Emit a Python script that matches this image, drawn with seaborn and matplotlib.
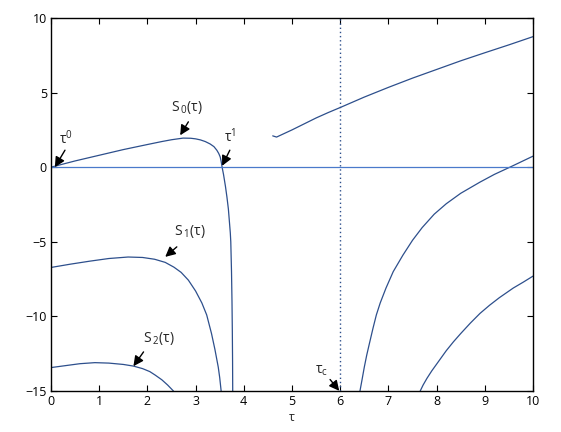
import numpy as np
import pandas as pd
import matplotlib
matplotlib.use("Agg")
import matplotlib.pyplot as plt
import seaborn as sns

# curve values
s0_tau = [0, 0.5, 1.0, 1.5, 2.0, 2.3, 2.5, 2.74, 2.9, 3.0, 3.1, 3.2, 3.3, 3.38, 3.44, 3.48, 3.51, 3.53, 3.55,
          3.58, 3.62, 3.65, 3.68, 3.7, 3.72, 3.73, 3.745, 3.755, 3.762, 3.767, 3.77]
s0_val = [0, 0.42, 0.8, 1.18, 1.52, 1.72, 1.84, 1.95, 1.94, 1.9, 1.83, 1.72, 1.56, 1.38, 1.14, 0.92, 0.69, 0.4, 0,
          -0.5, -1.3, -2.0, -2.8, -3.6, -4.4, -5.0, -7.0, -9.0, -11.0, -13.0, -15]

s1_tau = [0, 0.4, 0.8, 1.2, 1.6, 1.9, 2.15, 2.37, 2.55, 2.7, 2.85, 3.0, 3.13, 3.23, 3.33, 3.4, 3.47, 3.5, 3.53]
s1_val = [-6.72, -6.5, -6.3, -6.12, -6.02, -6.05, -6.17, -6.38, -6.7, -7.05, -7.57, -8.3, -9.1, -9.9, -11.15,
          -12.2, -13.4, -14.1, -15]

s2_tau = [0, 0.3, 0.6, 0.91, 1.2, 1.5, 1.71, 1.9, 2.05, 2.16, 2.3, 2.42, 2.54]
s2_val = [-13.43, -13.3, -13.17, -13.1, -13.13, -13.22, -13.33, -13.5, -13.7, -13.93, -14.25, -14.6, -15]

up_tau = [4.6, 4.68, 4.8, 5.0, 5.25, 5.5, 5.75, 6.0, 6.5, 7.0, 7.5, 8.0, 8.5, 9.0, 9.5, 10]
up_val = [2.1, 2.02, 2.2, 2.5, 2.9, 3.3, 3.66, 4.0, 4.7, 5.35, 5.97, 6.55, 7.13, 7.67, 8.2, 8.75]

r1_tau = [6.41, 6.45, 6.5, 6.55, 6.6, 6.68, 6.75, 6.83, 6.95, 7.1, 7.3, 7.5, 7.7, 7.95, 8.2, 8.5, 8.9, 9.2, 9.52, 10]
r1_val = [-15, -14.3, -13.4, -12.6, -11.9, -10.8, -9.9, -9.1, -8.1, -7.0, -5.9, -4.9, -4.05, -3.15, -2.45,
          -1.75, -1.0, -0.48, 0, 0.74]

r2_tau = [7.66, 7.72, 7.8, 7.9, 8.0, 8.1, 8.2, 8.35, 8.5, 8.7, 8.9, 9.1, 9.3, 9.59, 9.8, 10]
r2_val = [-15, -14.6, -14.15, -13.65, -13.2, -12.75, -12.3, -11.7, -11.15, -10.45, -9.8, -9.25, -8.75,
          -8.1, -7.7, -7.3]

tau_c = 6

# annotations: label, text position, arrow tail, arrow head
ann_labels = ["τ$^0$", "S$\\,{}_0$(τ)", "τ$^1$", "S$\\,{}_1$(τ)", "S$\\,{}_2$(τ)", "τ$_\\mathrm{c}$"]
ann_texts = [(0.31, 1.9), (2.83, 4.0), (3.71, 2.05), (2.88, -4.3), (2.24, -11.5), (5.62, -13.6)]
ann_tails = [(0.29, 1.14), (2.85, 3.04), (3.71, 1.14), (2.61, -5.34), (1.92, -12.38), (5.79, -14.23)]
ann_heads = [(0.08, 0), (2.68, 2.14), (3.55, 0.09), (2.37, -6.01), (1.71, -13.34), (5.98, -14.99)]

sns.set_style("ticks")
plt.rcParams["font.family"] = ["Open Sans", "DejaVu Sans"]
plt.rcParams["mathtext.fontset"] = "custom"
plt.rcParams["mathtext.rm"] = "Open Sans"
plt.rcParams["mathtext.it"] = "Open Sans"

fig = plt.figure(figsize=(5.61, 4.32), dpi=100)
ax = fig.add_axes([51/561, 1 - 391/432, 482/561, 373/432])

navy = "#2d4f8c"
for t, v in [(s0_tau, s0_val), (s1_tau, s1_val), (s2_tau, s2_val),
             (up_tau, up_val), (r1_tau, r1_val), (r2_tau, r2_val)]:
    sns.lineplot(x=t, y=v, ax=ax, color=navy, lw=0.9, sort=False, estimator=None)

ax.axhline(0, color="#4a7acb", lw=0.9)
ax.axvline(tau_c, color=navy, lw=1.0, ls=(0, (1, 2)))

for lab, pos, tail, head in zip(ann_labels, ann_texts, ann_tails, ann_heads):
    ax.text(pos[0], pos[1], lab, ha="center", va="center", fontsize=10)
    ax.annotate("", xy=head, xytext=tail,
                arrowprops=dict(arrowstyle="-|>", color="k", lw=1.0,
                                mutation_scale=15, shrinkA=0, shrinkB=0))

ax.set_xlim(0, 10)
ax.set_ylim(-15, 10)
ax.set_xticks(range(0, 11))
ax.set_yticks([-15, -10, -5, 0, 5, 10])
ax.set_yticklabels(["\u221215", "\u221210", "\u22125", "0", "5", "10"])
ax.tick_params(direction="in", top=True, right=True, length=4, width=0.8,
               labelsize=9, pad=3, colors="k")
for s in ax.spines.values():
    s.set_linewidth(1.0)
    s.set_color("k")
ax.set_xlabel("τ", fontsize=9, labelpad=2)

fig.savefig("out.png", dpi=100)
